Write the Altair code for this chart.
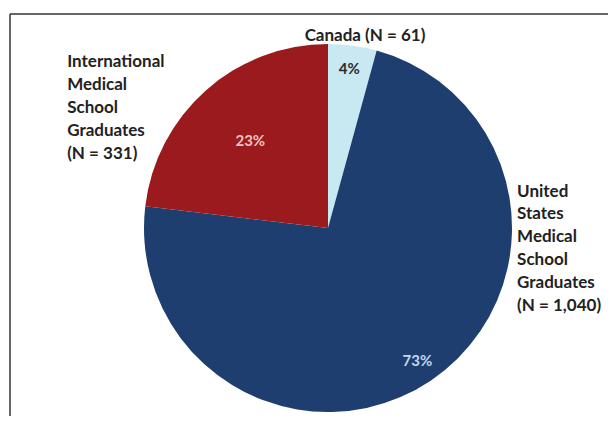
import altair as alt
import pandas as pd

countries = ["Canada", "United States", "International"]
counts = [61, 1040, 331]
pct_labels = ["4%", "73%", "23%"]
name_labels = [
    "Canada (N = 61)",
    "United\nStates\nMedical\nSchool\nGraduates\n(N = 1,040)",
    "International\nMedical\nSchool\nGraduates\n(N = 331)",
]
slice_colors = ["#C8E8F2", "#1E3E70", "#9A1A1E"]
pct_colors = ["#2b2b2b", "#C5D6EC", "#F0C4C4"]

df = pd.DataFrame({"country": countries, "count": counts, "pct": pct_labels, "name": name_labels})

CX, CY = 320, 220
FONT = "Lato"

base = (
    alt.Chart(df)
    .transform_window(idx="row_number()")
    .transform_window(cum="sum(count)", frame=[None, 0])
    .transform_calculate(mid="datum.cum - datum.count / 2")
)

pie = base.mark_arc(radius=184, strokeWidth=0).encode(
    theta=alt.Theta("count:Q", stack=True),
    order=alt.Order("idx:Q"),
    color=alt.Color("country:N", scale=alt.Scale(domain=countries, range=slice_colors), legend=None),
    x=alt.value(CX),
    y=alt.value(CY),
)

pct = base.transform_calculate(
    r="datum.country == 'International' ? 117 : 160"
).mark_text(font=FONT, fontSize=15, fontWeight="bold", align="center", baseline="middle").encode(
    theta=alt.Theta("mid:Q", stack=None),
    radius=alt.Radius("r:Q", scale=None),
    text="pct:N",
    color=alt.Color("pct:N", scale=alt.Scale(domain=pct_labels, range=pct_colors), legend=None),
    x=alt.value(CX),
    y=alt.value(CY),
)

def name_layer(country, r, dx, dy, align, baseline):
    return base.transform_filter(alt.datum.country == country).mark_text(
        font=FONT, fontSize=17, fontWeight="bold", color="#222222",
        align=align, baseline=baseline, dx=dx, dy=dy, lineBreak="\n", lineHeight=22.8,
    ).encode(
        theta=alt.Theta("mid:Q", stack=None),
        radius=alt.value(r),
        text="name:N",
        x=alt.value(CX),
        y=alt.value(CY),
    )

lab_ca = name_layer("Canada", 195, 11, 1, "center", "middle")
lab_us = name_layer("United States", 190, 83, -202, "left", "top")
lab_in = name_layer("International", 200, -128, -24, "left", "top")

frame_df = pd.DataFrame({"k": [0]})
frame_v = alt.Chart(frame_df).mark_rule(color="#333333", strokeWidth=1.5).encode(
    x=alt.value(2), y=alt.value(6), y2=alt.value(408)
)
frame_h = alt.Chart(frame_df).mark_rule(color="#333333", strokeWidth=1.5).encode(
    x=alt.value(2), x2=alt.value(600), y=alt.value(6)
)

chart = (
    alt.layer(pie, pct, lab_ca, lab_us, lab_in, frame_v, frame_h)
    .resolve_scale(color="independent")
    .properties(width=600, height=408, padding=0, autosize="none", background="white")
    .configure_view(stroke=None)
)

chart.save("out.html", embed_options={"renderer": "svg", "actions": False})
